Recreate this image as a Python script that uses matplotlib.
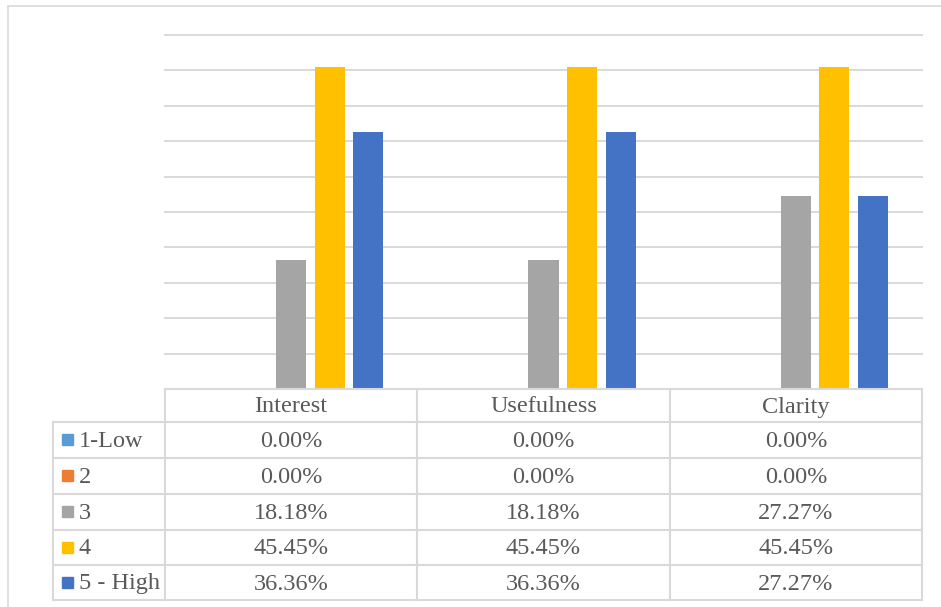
import matplotlib
matplotlib.use('Agg')
import matplotlib.pyplot as plt
from matplotlib.patches import Rectangle
import numpy as np

# data
categories = ['Interest', 'Usefulness', 'Clarity']
series_names = ['1-Low', '2', '3', '4', '5 - High']
series_values = [
    [0.00, 0.00, 0.00],
    [0.00, 0.00, 0.00],
    [18.18, 18.18, 27.27],
    [45.45, 45.45, 45.45],
    [36.36, 36.36, 27.27],
]
series_colors = ['#5B9BD5', '#ED7D31', '#A5A5A5', '#FFC000', '#4472C4']

W, H = 941, 607
fig = plt.figure(figsize=(W / 100, H / 100), dpi=100)

def fx(px):
    return px / W

def fy(py):
    return 1 - py / H

text_color = '#595959'
grid_color = '#D9D9D9'
font = 'Liberation Serif'

# outer chart border (only top/left visible in reference)
fig.patches.append(Rectangle((fx(8), fy(640)), fx(960) - fx(8), fy(6) - fy(640),
                             transform=fig.transFigure, fill=False,
                             edgecolor=grid_color, linewidth=1.2))

# plot area
plot_left, plot_right, plot_top, plot_bottom = 165, 922, 35, 389
ax = fig.add_axes([fx(plot_left), fy(plot_bottom), fx(plot_right - plot_left),
                   fy(plot_top) - fy(plot_bottom)])
x = np.arange(len(categories))
bar_w = 0.119
step = 0.153
for i, (name, vals) in enumerate(zip(series_names, series_values)):
    ax.bar(x + (i - 2) * step, vals, width=bar_w, color=series_colors[i], zorder=3)
ax.set_xlim(-0.5, len(categories) - 0.5)
ax.set_ylim(0, 50)
ax.set_yticks(np.arange(0, 51, 5))
ax.yaxis.grid(True, color=grid_color, linewidth=1.4)
for gl in ax.get_ygridlines():
    gl.set_clip_on(False)
ax.set_xticks([])
ax.tick_params(left=False, labelleft=False)
for s in ax.spines.values():
    s.set_visible(False)

# data table
tab = fig.add_axes([0, 0, 1, 1], facecolor='none')
tab.set_xlim(0, W)
tab.set_ylim(H, 0)
tab.axis('off')

label_left = 53
col_edges = [165, 417, 670, 922]
row_edges = [389, 422, 458, 494, 530, 565, 600]
lw = 1.5

# header row
tab.plot([col_edges[0], col_edges[-1]], [row_edges[0]] * 2, color=grid_color, lw=lw)
# body rows
for r in row_edges[1:]:
    tab.plot([label_left, col_edges[-1]], [r, r], color=grid_color, lw=lw)
for c in col_edges:
    tab.plot([c, c], [row_edges[0], row_edges[-1]], color=grid_color, lw=lw)
tab.plot([label_left, label_left], [row_edges[1], row_edges[-1]], color=grid_color, lw=lw)

fs = 17.5
dy = 7  # baseline offset below cell centre
for j, cat in enumerate(categories):
    cx = (col_edges[j] + col_edges[j + 1]) / 2
    cy = (row_edges[0] + row_edges[1]) / 2
    tab.text(cx, cy + dy, cat, ha='center', va='baseline', fontsize=fs,
             family=font, color=text_color)

for i, name in enumerate(series_names):
    cy = (row_edges[i + 1] + row_edges[i + 2]) / 2
    tab.add_patch(Rectangle((62, cy - 6), 11, 11, color=series_colors[i]))
    tab.text(79, cy + dy, name, ha='left', va='baseline', fontsize=fs,
             family=font, color=text_color)
    for j in range(len(categories)):
        cx = (col_edges[j] + col_edges[j + 1]) / 2
        tab.text(cx, cy + dy, f'{series_values[i][j]:.2f}%', ha='center',
                 va='baseline', fontsize=fs, family=font, color=text_color)

fig.savefig('out.png', dpi=100)
